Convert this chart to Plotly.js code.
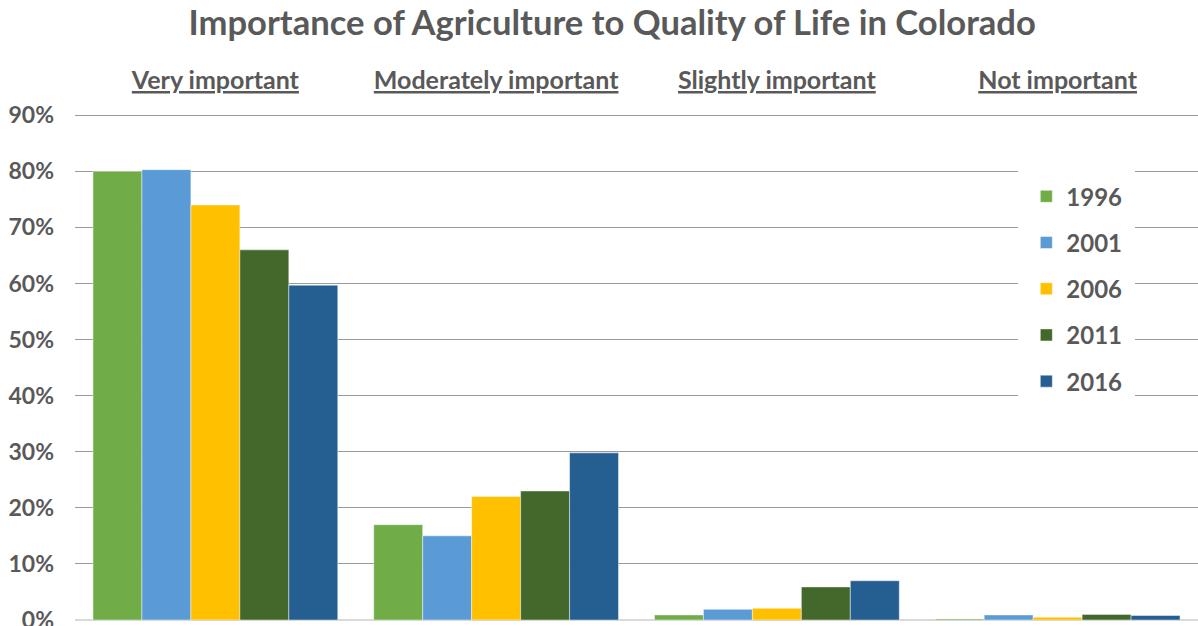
<!DOCTYPE html>
<html>
<head>
<meta charset="utf-8">
<script src="https://cdn.plot.ly/plotly-3.0.1.min.js"></script>
<style>html,body{margin:0;padding:0;background:#fff;}#chart{width:1198px;height:626px;}</style>
</head>
<body>
<div id="chart"></div>
<script>
const categories = ["Very important", "Moderately important", "Slightly important", "Not important"];
const years = ["1996", "2001", "2006", "2011", "2016"];
const v1996 = [0.800, 0.170, 0.009, 0.002];
const v2001 = [0.803, 0.150, 0.019, 0.009];
const v2006 = [0.740, 0.220, 0.021, 0.005];
const v2011 = [0.660, 0.230, 0.059, 0.010];
const v2016 = [0.597, 0.298, 0.070, 0.008];
const colors = ["#70AD47", "#5B9BD5", "#FFC000", "#43682B", "#255E91"];
const series = [v1996, v2001, v2006, v2011, v2016];
const yTicks = [0, 0.1, 0.2, 0.3, 0.4, 0.5, 0.6, 0.7, 0.8, 0.9];

const FONT = "Lato, 'Open Sans', sans-serif";
const GREY = "#595959";

const traces = series.map((vals, i) => ({
  type: "bar",
  name: years[i],
  x: categories,
  y: vals,
  legendgroup: years[i],
  marker: { color: colors[i], line: { color: "rgba(255,255,255,0.45)", width: 1 } },
  hoverinfo: "none"
}));

const layout = {
  width: 1198, height: 626,
  margin: { l: 75, r: 0, t: 113, b: 6 },
  paper_bgcolor: "#fff", plot_bgcolor: "#fff",
  title: { text: "Importance of Agriculture to Quality of Life in Colorado", x: 0.511, xanchor: "center", y: 0.963, yanchor: "middle",
           font: { family: FONT, size: 34.6, color: GREY, weight: 700 } },
  barmode: "group",
  bargap: 0.128,
  bargroupgap: 0,
  xaxis: {
    side: "top",
    tickfont: { family: FONT, size: 25, color: GREY, weight: 700, lineposition: "under" },
    ticks: "", ticklabelstandoff: 18,
    showline: false, showgrid: false, zeroline: false, fixedrange: true
  },
  yaxis: {
    range: [0, 0.904],
    tickvals: yTicks,
    tickformat: ".0%",
    tickfont: { family: FONT, size: 23, color: GREY, weight: 700 },
    ticklabelstandoff: 20,
    ticklabeloverflow: "allow",
    showgrid: true, gridcolor: "#9a9a9a", gridwidth: 1,
    zeroline: true, zerolinecolor: "#d9d9d9", zerolinewidth: 2,
    showline: false, fixedrange: true
  },
  showlegend: true,
  legend: {
    x: 0.84, xanchor: "left", y: 0.895, yanchor: "top",
    bgcolor: "#ffffff", bordercolor: "#ffffff", borderwidth: 8,
    font: { family: FONT, size: 24, color: GREY, weight: 700 },
    tracegroupgap: 12,
    entrywidth: 135
  }
};

Plotly.newPlot("chart", traces, layout, { displayModeBar: false, staticPlot: true });
</script>
</body>
</html>
